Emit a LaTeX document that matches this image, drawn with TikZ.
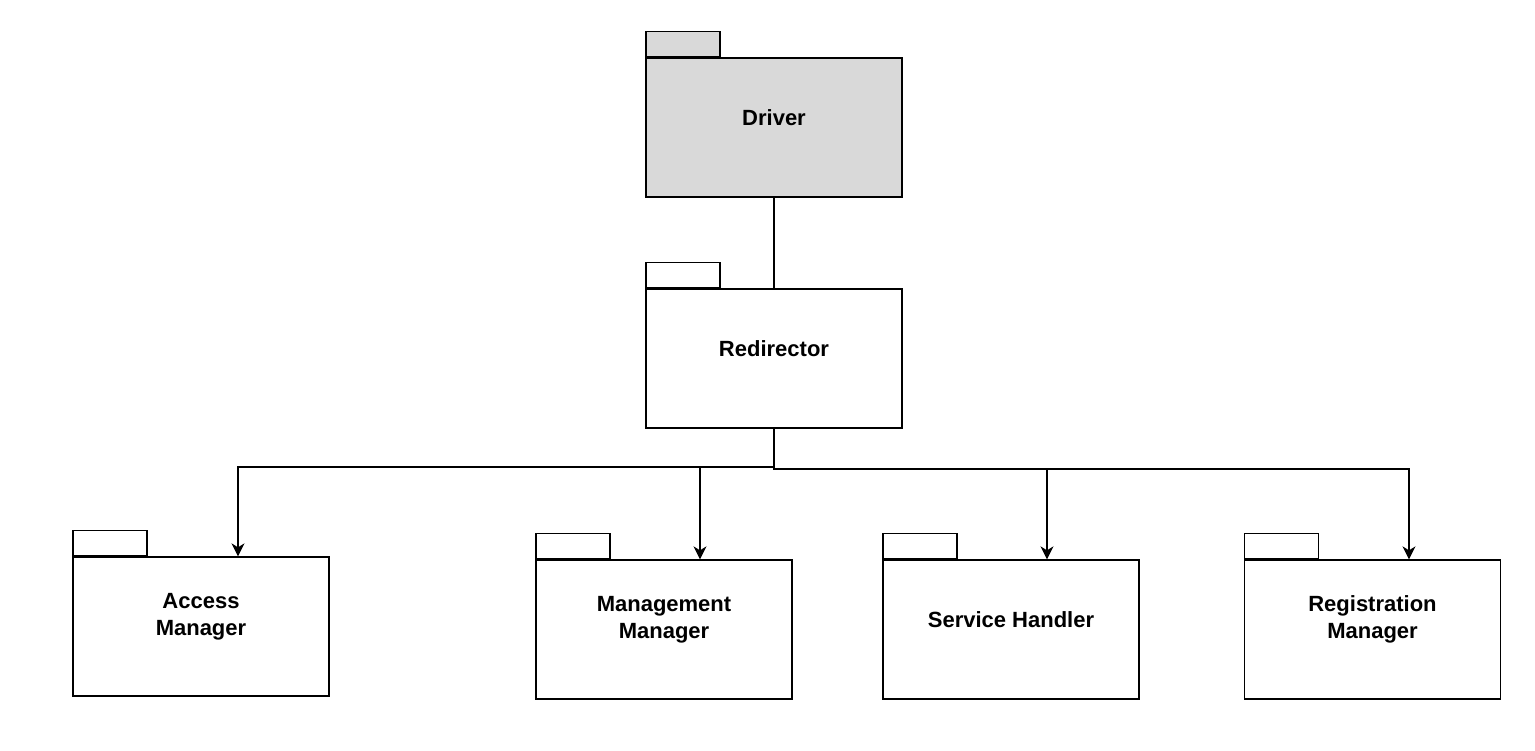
\documentclass[tikz,border=0pt]{standalone}
\usepackage{fontspec}
\setmainfont{Liberation Sans}
\usetikzlibrary{arrows.meta}
\definecolor{drivergray}{RGB}{217,217,217}
\tikzset{
  pkgbody/.style={draw, line width=1.3pt, minimum width=256pt, minimum height=139pt,
    inner sep=0pt},
  pkgtab/.style={draw, line width=1.3pt, minimum width=74pt, minimum height=25pt,
    inner sep=0pt, anchor=south west},
  pkglabel/.style={label={[align=center, yshift=10pt, font=\fontsize{22}{27}\selectfont\bfseries]center:#1}},
  flow/.style={line width=1.3pt, -{Stealth[length=13pt, width=13pt, inset=4pt]}}
}
\begin{document}
\begin{tikzpicture}[x=1pt, y=-1pt]
  \useasboundingbox (0,0) rectangle (1535,751);

  \node[pkgbody, fill=drivergray, pkglabel={Driver}] (drv) at (774, 127.5) {};
  \node[pkgtab, fill=drivergray] (drvtab) at (drv.north west) {};
  \node[pkgbody, pkglabel={Redirector}] (red) at (774, 358.5) {};
  \node[pkgtab] (redtab) at (red.north west) {};

  \node[pkgbody, pkglabel={Access\\Manager}] (acc) at (201, 626.5) {};
  \node[pkgtab] (acctab) at (acc.north west) {};
  \node[pkgbody, pkglabel={Management\\Manager}] (mgm) at (664, 629.5) {};
  \node[pkgtab] (mgmtab) at (mgm.north west) {};
  \node[pkgbody, pkglabel={Service Handler}] (srv) at (1011, 629.5) {};
  \node[pkgtab] (srvtab) at (srv.north west) {};
  \node[pkgbody, pkglabel={Registration\\Manager}] (reg) at (1372.5, 629.5) {};
  \node[pkgtab] (regtab) at (reg.north west) {};

  \coordinate (lsplit) at (774, 467);
  \coordinate (rsplit) at (774, 469);

  \draw[line width=1.3pt] (drv.south) -- (red.north);
  \draw[flow] (red.south) -- (lsplit) -| ([xshift=37pt]acc.north);
  \draw[flow] (lsplit) -| ([xshift=36pt]mgm.north);
  \draw[flow] (red.south) -- (rsplit) -| ([xshift=36pt]srv.north);
  \draw[flow] (rsplit) -| ([xshift=36.5pt]reg.north);
\end{tikzpicture}
\end{document}
